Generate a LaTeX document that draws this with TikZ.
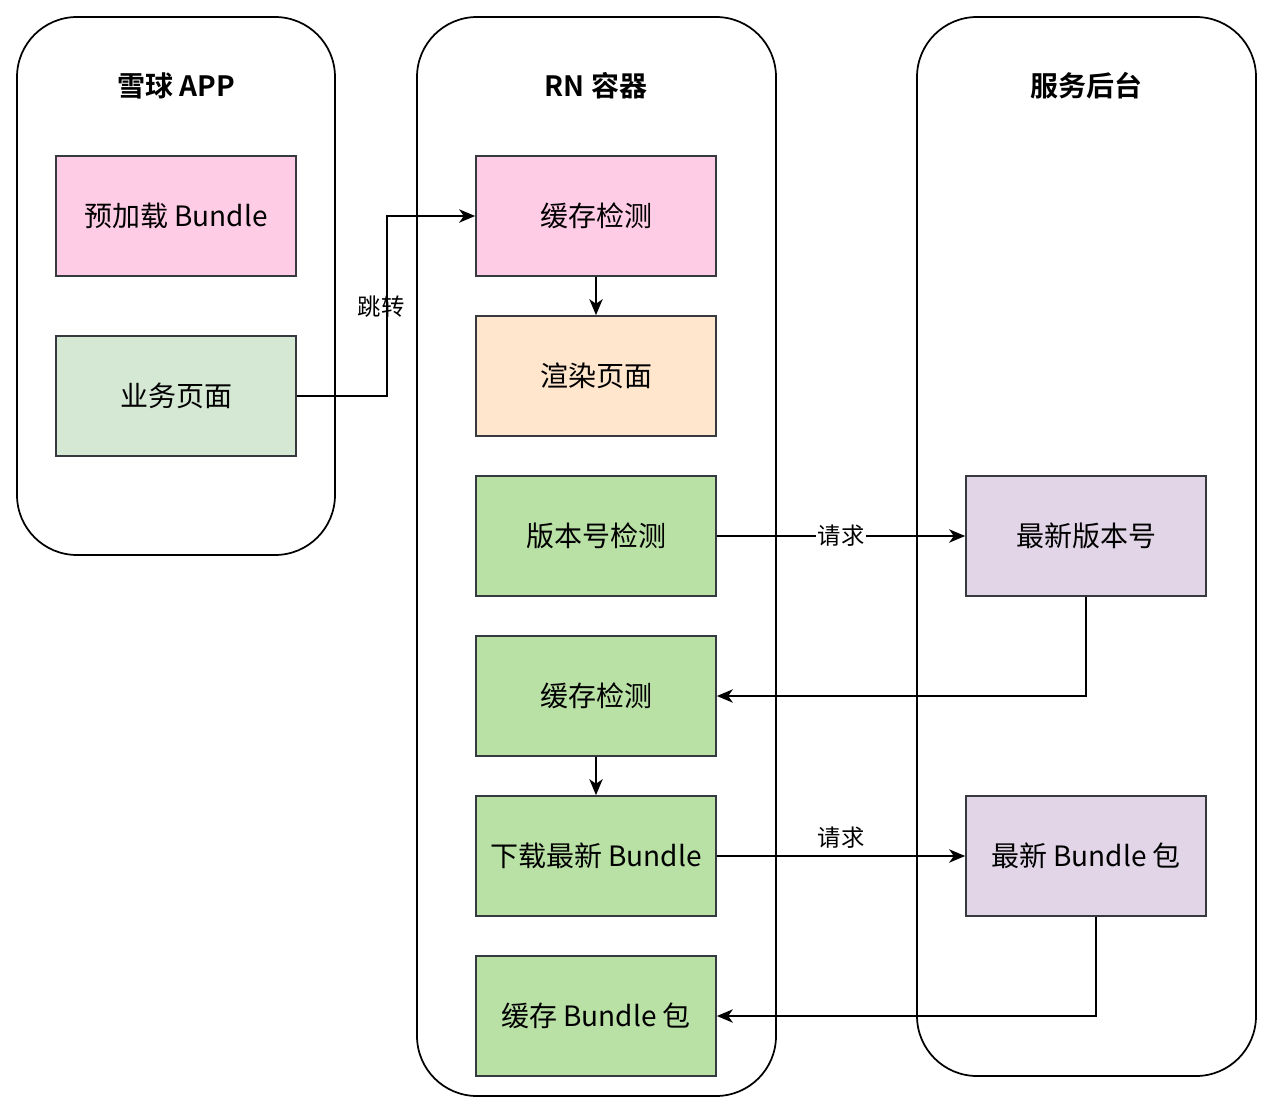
\documentclass[tikz,border=0pt]{standalone}
\usepackage{fontspec}
\setmainfont{Noto Sans CJK SC}[BoldFont={Noto Sans CJK SC Bold}]
\usepackage{tikz}
\usetikzlibrary{arrows.meta}

\definecolor{pinkfill}{HTML}{FFCCE6}
\definecolor{palegreen}{HTML}{D5E8D4}
\definecolor{orangefill}{HTML}{FFE6CC}
\definecolor{greenfill}{HTML}{B9E0A5}
\definecolor{purplefill}{HTML}{E1D5E7}
\definecolor{boxline}{HTML}{36393D}

\def\px{0.75pt}

\begin{document}
\begin{tikzpicture}[x=0.75pt,y=-0.75pt,>={Stealth[length=12pt,width=10pt,inset=3.5pt]}]
  \tikzstyle{lane}=[draw,line width=1.3pt,rounded corners=45pt,fill=white,inner sep=0pt]
  \tikzstyle{step box}=[draw=boxline,line width=1.3pt,inner sep=0pt,minimum width=240*\px,minimum height=120*\px,font=\fontsize{21}{25}\selectfont]
  \tikzstyle{lane title}=[font=\fontsize{21}{25}\selectfont\bfseries]
  \tikzstyle{link}=[draw,line width=1.3pt,->]
  \tikzstyle{link label}=[font=\fontsize{17.5}{20}\selectfont,inner sep=1pt]

  \useasboundingbox (0,0) rectangle (1274,1114);

  % lanes
  \draw (176,286) node[lane,minimum width=318*\px,minimum height=538*\px] (app) {};
  \draw (596.5,556.5) node[lane,minimum width=359*\px,minimum height=1079*\px] (rn) {};
  \draw (1086.5,546.5) node[lane,minimum width=339*\px,minimum height=1059*\px] (server) {};

  \draw (176,86) node[lane title] (apptitle) {雪球 APP};
  \draw (596,86) node[lane title] (rntitle) {RN 容器};
  \draw (1086,86) node[lane title] (servertitle) {服务后台};

  % app side
  \draw (176,216) node[step box,fill=pinkfill] (preload) {预加载 Bundle};
  \draw (176,396) node[step box,fill=palegreen] (biz) {业务页面};

  % rn container
  \draw (596,216) node[step box,fill=pinkfill] (cacheA) {缓存检测};
  \draw (596,376) node[step box,fill=orangefill] (render) {渲染页面};
  \draw (596,536) node[step box,fill=greenfill] (version) {版本号检测};
  \draw (596,696) node[step box,fill=greenfill] (cacheB) {缓存检测};
  \draw (596,856) node[step box,fill=greenfill] (download) {下载最新 Bundle};
  \draw (596,1016) node[step box,fill=greenfill] (save) {缓存 Bundle 包};

  % server side
  \draw (1086,536) node[step box,fill=purplefill] (latest) {最新版本号};
  \draw (1086,856) node[step box,fill=purplefill] (package) {最新 Bundle 包};

  \path[link] (biz.east) -- ++(90,0) |- (cacheA.west);
  \draw (381,307) node[link label] (jump) {跳转};

  \path[link] (cacheA) -- (render);
  \path[link] (version) -- node[link label,fill=white] (askA) {请求} (latest);
  \path[link] (latest.south) |- (cacheB.east);
  \path[link] (cacheB) -- (download);
  \path[link] (download) -- node[link label,above=4pt] (askB) {请求} (package);
  \path[link] ([xshift=10*\px]package.south) |- (save.east);

\end{tikzpicture}
\end{document}
